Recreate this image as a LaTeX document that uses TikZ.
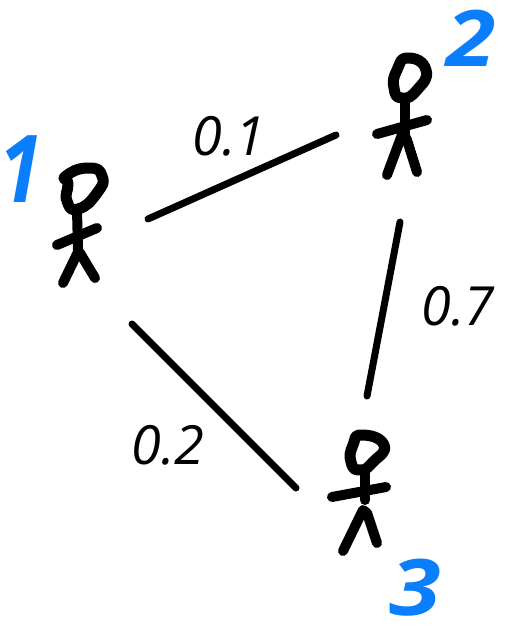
\documentclass[tikz,border=0pt]{standalone}
\usepackage{fontspec}
\setmainfont{Open Sans}
\definecolor{inkblue}{HTML}{0A7EFB}
\tikzset{
  ink/.style={line width=#1,line cap=round,line join=round,black},
  ink/.default=10pt,
  edgeline/.style={line width=7pt,line cap=round,black},
  weight/.style={inner sep=0pt,font=\itshape\fontsize{54}{54}\selectfont,text=black},
  idlabel/.style={inner sep=0pt,font=\bfseries\itshape\fontsize{78}{78}\selectfont,text=inkblue},
}
\begin{document}
\begin{tikzpicture}[x=1pt,y=-1pt]
\useasboundingbox (0,0) rectangle (511,631);
% figure 1
\draw[ink=11pt] plot[smooth cycle,tension=1] coordinates {(66,176)(88,168)(102,176)(97,193)(78,209)(67,201)(68,184)};
\draw[ink] (77,210) -- (78,250);
\draw[ink] (57,245) -- (97,228);
\draw[ink] (63,283) -- (78,252) -- (80,253) -- (95,278);
% figure 2
\draw[ink=11pt] plot[smooth cycle,tension=1] coordinates {(408,58)(426,70)(417,90)(402,98)(394,88)(397,70)};
\draw[ink] (405,100) -- (405,133);
\draw[ink] (377,134) -- (427,120);
\draw[ink] (387,175) -- (403,132) -- (407,140) -- (417,172);
% figure 3
\draw[ink=11pt] plot[smooth cycle,tension=1] coordinates {(362,435)(384,445)(373,462)(360,470)(351,462)(353,445)};
\draw[ink] (365,470) -- (365,500);
\draw[ink] (332,497) -- (386,487);
\draw[ink] (343,551) -- (363,510) -- (367,513) -- (377,543);
% connectors
\coordinate (a1) at (148,219); \coordinate (b1) at (336,135);
\coordinate (a2) at (400,222); \coordinate (b2) at (367,396);
\coordinate (a3) at (132,324); \coordinate (b3) at (296,488);
\draw[edgeline] (a1) -- (b1);
\draw[edgeline] (a2) -- (b2);
\draw[edgeline] (a3) -- (b3);
% labels
\node[weight] (w1) at (229,136) {0.1};
\node[weight] (w2) at (458,306) {0.7};
\node[weight] (w3) at (168,445) {0.2};
\node[idlabel,yscale=1.2] (n1) at (21,169) {1};
\node[idlabel,xscale=1.15] (n2) at (471,38) {2};
\node[idlabel,xscale=1.2] (n3) at (415,588) {3};
\end{tikzpicture}
\end{document}
